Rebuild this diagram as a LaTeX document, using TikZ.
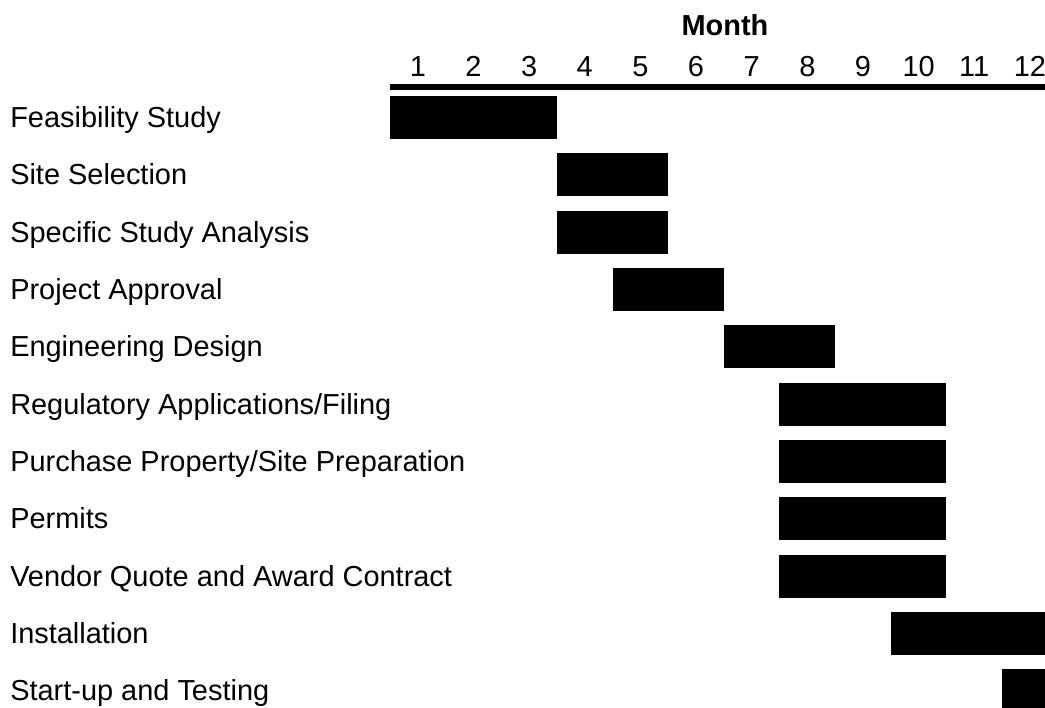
\documentclass[tikz,border=0pt]{standalone}
\usepackage{fontspec}
\setmainfont{Liberation Sans}
\usetikzlibrary{calc}
\tikzset{chartfont/.style={font=\fontsize{21.7}{26}\selectfont, inner sep=0pt}}
\newcommand{\monthnum}[1]{ \node[chartfont, anchor=base] (m#1) at ( 390 + 55.64 * #1 - 27.82 , 76 ){#1};}
\newcommand{\task}[5]{ \node[chartfont, anchor=base west] (#1) at ( 10 , 96 + 57.33 * #2 + 31.5 ){#3}; \fill[black] ( 390 + 55.64 * #4 - 55.64 , 96 + 57.33 * #2 ) rectangle ( 390 + 55.64 * #5 , 96 + 57.33 * #2 + 43 );}

\begin{document}
\begin{tikzpicture}[x=0.75pt, y=-0.75pt]
    \useasboundingbox (0,0) rectangle (1045,707);
    \clip (0,0) rectangle (1045,707);
    %
    \node[chartfont, anchor=base, font=\fontsize{21.7}{26}\selectfont\bfseries] (month) at (725,35) {Month};
    \monthnum{1}
    \monthnum{2}
    \monthnum{3}
    \monthnum{4}
    \monthnum{5}
    \monthnum{6}
    \monthnum{7}
    \monthnum{8}
    \monthnum{9}
    \monthnum{10}
    \monthnum{11}
    \monthnum{12}
    \draw[line width=4.5pt] (390,87) -- (1060,87);
    %
    \task{feas}{0}{Feasibility Study}{1}{3}
    \task{site}{1}{Site Selection}{4}{5}
    \task{spec}{2}{Specific Study Analysis}{4}{5}
    \task{appr}{3}{Project Approval}{5}{6}
    \task{eng}{4}{Engineering Design}{7}{8}
    \task{reg}{5}{Regulatory Applications/Filing}{8}{10}
    \task{prop}{6}{Purchase Property/Site Preparation}{8}{10}
    \task{perm}{7}{Permits}{8}{10}
    \task{vend}{8}{Vendor Quote and Award Contract}{8}{10}
    \task{inst}{9}{Installation}{10}{12}
    \task{test}{10}{Start-up and Testing}{12}{12}
\end{tikzpicture}
\end{document}
